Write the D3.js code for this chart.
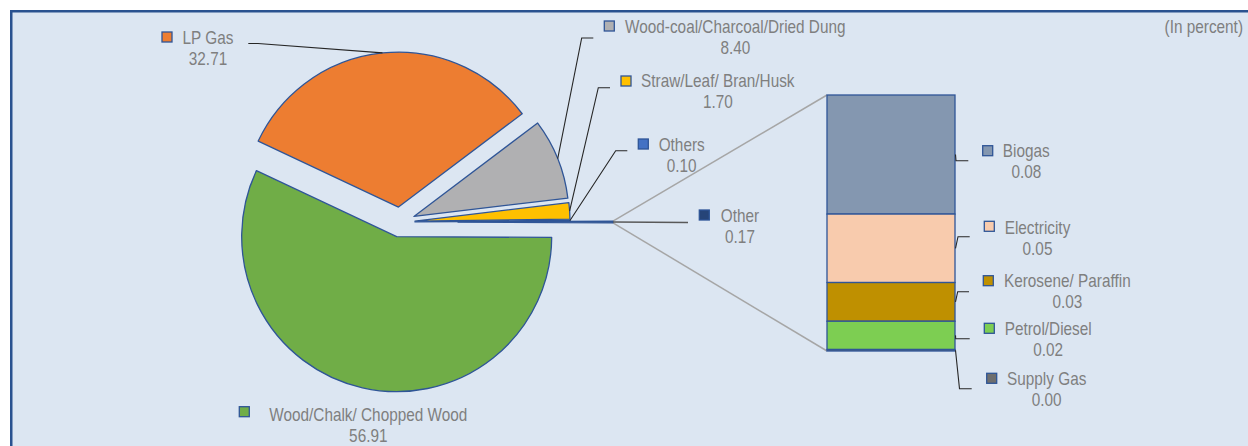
<!DOCTYPE html>
<html><head><meta charset="utf-8">
<script src="https://cdn.jsdelivr.net/npm/d3@7"></script>
<style>
body{margin:0;background:#fff;}
text{font-family:"Liberation Sans Narrow","Arial Narrow","Liberation Sans",Arial,sans-serif;font-size:18px;fill:#7F7F7F;}
</style>
</head><body>
<svg id="c" width="1248" height="446"></svg>
<script>
// ---- data ----
const pieCategories = ["Wood/Chalk/ Chopped Wood","LP Gas","Wood-coal/Charcoal/Dried Dung","Straw/Leaf/ Bran/Husk","Others","Other"];
const pieValues = [56.91, 32.71, 8.40, 1.70, 0.10, 0.17];
const barCategories = ["Biogas","Electricity","Kerosene/ Paraffin","Petrol/Diesel","Supply Gas"];
const barValues = [0.080, 0.046, 0.026, 0.019, 0.001];
const unitNote = "(In percent)";

// ---- styles / layout ----
const pieColors = ["#70AD47","#ED7D31","#B0B0B2","#FFC000","#4472C4","#264478"];
const barColors = ["#8497B0","#F8CBAD","#BF9000","#7DCE52","#6E6E6E"];
const edge = "#2F5597";
const cx = 400, cy = 222, R = 155;
const explode = [15,15,15,15,15,58];
const pieLabelLayout = [
  {sq:[239.3,406.7], tx:368.3, by:420.7, leader:null},
  {sq:[162,32], tx:208, by:44, leader:[[248.3,43.5],[258,43.5]]},
  {sq:[604.3,21], tx:735.3, by:33.3, leader:[[593.3,38],[581.7,38]]},
  {sq:[621,76], tx:717.8, by:87.3, leader:[[610,87.7],[598.3,87.7]]},
  {sq:[638.3,139], tx:681.7, by:150.7, leader:[[627.3,150.7],[615.7,150.7]]},
  {sq:[699.3,210], tx:740, by:222.3, leader:[[688,222.5]]}
];
const barX0 = 827, barX1 = 955, barTop = 95, barBottom = 351;
const barLabelLayout = [
  {sq:[982.7,145.7], tx:1026.3, by:157, leader:[[956,160.7],[968.3,160.7]]},
  {sq:[984.3,221.3], tx:1037.5, by:234, leader:[[958,236.7],[969.7,236.7]]},
  {sq:[983.3,275.7], tx:1067.3, by:287.3, leader:[[957.7,291.7],[969,291.7]]},
  {sq:[984.3,323.3], tx:1048.2, by:335.3, leader:[[955.7,338.7],[969.7,338.7]]},
  {sq:[986.7,373.3], tx:1046.7, by:385.3, leader:[[959.5,388.7],[971.7,388.7]]}
];
const lineGap = 21;
const squeeze = 0.852; // narrow-font look

const svg = d3.select("#c");
// frame
svg.append("rect").attr("x",11.25).attr("y",11.25).attr("width",1400).attr("height",600)
  .attr("fill","#DCE6F2").attr("stroke","#2A5290").attr("stroke-width",2.5);

// pie
const total = d3.sum(pieValues);
const half = Math.PI * pieValues[pieValues.length-1] / total;
const pie = d3.pie().sort(null).value(d=>d)
  .startAngle(Math.PI/2 + half).endAngle(Math.PI/2 + half + 2*Math.PI);
const arcs = pie(pieValues);
const arc = d3.arc().innerRadius(0).outerRadius(R);
function off(a, d){ return [Math.sin(a)*d, -Math.cos(a)*d]; }

// bar scale
const stackOrder = barValues.map((v,i)=>i).reverse(); // bottom first: Supply Gas
const y = d3.scaleLinear().domain([0, d3.sum(barValues)]).range([barBottom, barTop]);
let cum = 0; const segs = [];
stackOrder.forEach(i=>{ segs[i] = {y0:cum, y1:cum+barValues[i]}; cum += barValues[i]; });

// series lines
const oa = arcs[arcs.length-1];
const oo = off((oa.startAngle+oa.endAngle)/2, explode[arcs.length-1]);
const pA = [cx+oo[0]+Math.sin(oa.endAngle)*R, cy+oo[1]-Math.cos(oa.endAngle)*R];
const pB = [cx+oo[0]+Math.sin(oa.startAngle)*R, cy+oo[1]-Math.cos(oa.startAngle)*R];
const topPt = pA[1] < pB[1] ? pA : pB, botPt = pA[1] < pB[1] ? pB : pA;
svg.append("line").attr("x1",topPt[0]).attr("y1",topPt[1]).attr("x2",barX0).attr("y2",y(cum))
  .attr("stroke","#A6A6A6").attr("stroke-width",1.5);
svg.append("line").attr("x1",botPt[0]).attr("y1",botPt[1]).attr("x2",barX0).attr("y2",y(0))
  .attr("stroke","#A6A6A6").attr("stroke-width",1.5);

// slices
svg.append("g").selectAll("path").data(arcs).join("path")
  .attr("d", arc)
  .attr("transform",(d,i)=>{const o=off((d.startAngle+d.endAngle)/2, explode[i]); return `translate(${cx+o[0]},${cy+o[1]})`;})
  .attr("fill",(d,i)=>pieColors[i]).attr("stroke",edge).attr("stroke-width",1.3).attr("stroke-linejoin","round");

// bar
svg.append("g").selectAll("rect").data(barValues).join("rect")
  .attr("x",barX0).attr("width",barX1-barX0)
  .attr("y",(d,i)=>y(segs[i].y1)).attr("height",(d,i)=>y(segs[i].y0)-y(segs[i].y1))
  .attr("fill",(d,i)=>barColors[i]).attr("stroke",edge).attr("stroke-width",1.3);

// pie leader lines
arcs.forEach((d,i)=>{
  const L = pieLabelLayout[i].leader; if(!L) return;
  const a=(d.startAngle+d.endAngle)/2; const o=off(a, explode[i]+R);
  const pts=[...L, [cx+o[0], cy+o[1]]];
  svg.append("path").attr("d", d3.line()(pts)).attr("fill","none")
    .attr("stroke", i===arcs.length-1 ? "#595959" : "#262626").attr("stroke-width", i===arcs.length-1?1.5:1.1);
});
// bar leader lines
barValues.forEach((v,i)=>{
  const L = barLabelLayout[i].leader;
  const ym = (y(segs[i].y0)+y(segs[i].y1))/2;
  const pts=[[barX1+0.5, ym], ...L];
  svg.append("path").attr("d", d3.line()(pts)).attr("fill","none").attr("stroke","#262626").attr("stroke-width",1.1);
});

// labels
const fmt = d3.format(".2f");
function txt(x, yy, s, anchor){
  svg.append("text").attr("transform",`translate(${x},${yy}) scale(${squeeze},1)`)
    .attr("text-anchor",anchor||"middle").text(s);
}
function label(name, val, color, lay){
  svg.append("rect").attr("x",lay.sq[0]).attr("y",lay.sq[1]).attr("width",10).attr("height",10)
    .attr("fill",color).attr("stroke",edge).attr("stroke-width",1.3);
  txt(lay.tx, lay.by, name);
  txt(lay.tx, lay.by+lineGap, fmt(val));
}
pieValues.forEach((v,i)=>label(pieCategories[i], v, pieColors[i], pieLabelLayout[i]));
barValues.forEach((v,i)=>label(barCategories[i], v, barColors[i], barLabelLayout[i]));

txt(1243, 33.3, unitNote, "end");
</script>
</body></html>
